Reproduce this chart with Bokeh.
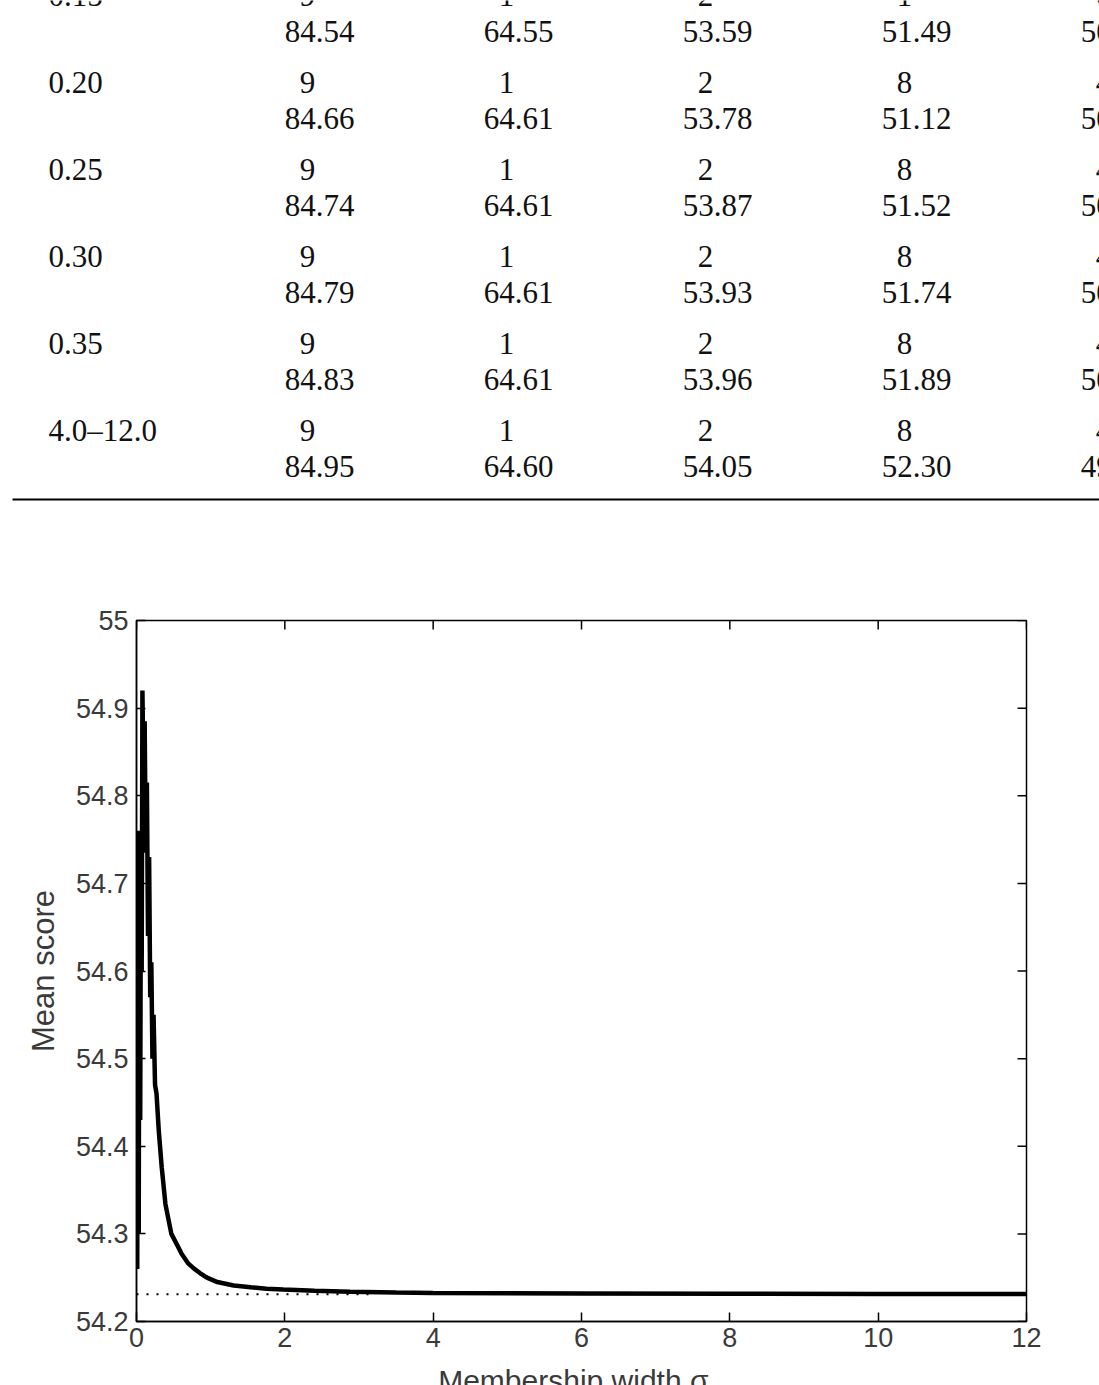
from bokeh.plotting import figure
from bokeh.models import Range1d, FixedTicker, PrintfTickFormatter, ColumnDataSource
from bokeh.core.properties import value
from bokeh.embed import file_html
from bokeh.resources import INLINE

# ---------------- table data (upper part of the page) ----------------
row_labels = ["0.15", "0.20", "0.25", "0.30", "0.35", "4.0–12.0"]
col1_counts = ["9", "9", "9", "9", "9", "9"]
col1_scores = ["84.54", "84.66", "84.74", "84.79", "84.83", "84.95"]
col2_counts = ["1", "1", "1", "1", "1", "1"]
col2_scores = ["64.55", "64.61", "64.61", "64.61", "64.61", "64.60"]
col3_counts = ["2", "2", "2", "2", "2", "2"]
col3_scores = ["53.59", "53.78", "53.87", "53.93", "53.96", "54.05"]
col4_counts = ["1", "8", "8", "8", "8", "8"]
col4_scores = ["51.49", "51.12", "51.52", "51.74", "51.89", "52.30"]
col5_counts = ["6", "4", "4", "4", "4", "4"]
col5_scores = ["50.31", "50.22", "50.18", "50.12", "50.06", "49.87"]

# ---------------- chart data ----------------
sigma = [0.010, 0.020, 0.030, 0.040, 0.050, 0.060, 0.070, 0.080, 0.095, 0.110,
         0.125, 0.140, 0.155, 0.170, 0.185, 0.200, 0.215, 0.230, 0.250, 0.270,
         0.300, 0.340, 0.390, 0.470, 0.550, 0.610, 0.700, 0.780, 0.860, 0.950,
         1.090, 1.200, 1.310, 1.540, 1.750, 1.980, 2.400, 2.880, 3.500, 4.000,
         6.000, 8.000, 10.000, 12.000]
mean_score = [54.26, 54.76, 54.30, 54.75, 54.43, 54.74, 54.60, 54.92, 54.82, 54.885,
              54.735, 54.815, 54.64, 54.73, 54.57, 54.61, 54.50, 54.55, 54.47, 54.46,
              54.418, 54.376, 54.334, 54.300, 54.287, 54.277, 54.266, 54.260, 54.255, 54.250,
              54.245, 54.243, 54.241, 54.239, 54.2375, 54.2365, 54.235, 54.234, 54.233, 54.2325,
              54.232, 54.2317, 54.2315, 54.2315]
asymptote = 54.231
dotted_extent = [0.0, 3.2]
x_ticks = [0, 2, 4, 6, 8, 10, 12]
y_ticks = [54.2, 54.3, 54.4, 54.5, 54.6, 54.7, 54.8, 54.9, 55.0]
x_title = "Membership width  σ"
y_title = "Mean score"

W = 1099
TABLE_H = 560
CHART_TOP = 60
FRAME_H = 701
CHART_BOTTOM = 44
CHART_H = CHART_TOP + FRAME_H + CHART_BOTTOM
LABEL_H = 1385 - TABLE_H - CHART_H

# ---------------- table figure ----------------
t = figure(width=W, height=TABLE_H, output_backend="svg", toolbar_location=None,
           x_range=Range1d(0, W), y_range=Range1d(TABLE_H, 0),
           min_border=0, outline_line_color=None)
t.axis.visible = False
t.grid.visible = False

serif = value("Liberation Serif")
fs = "31px"
ink = "#111111"
row_pitch = 87
top_line0 = -5
bottom_line0 = 31
col_centers = [319 + 199 * i for i in range(5)]
count_shift = -12

lab_x = [48 for _ in row_labels]
lab_y = [top_line0 + row_pitch * j for j in range(len(row_labels))]
t.text(x=lab_x, y=lab_y, text=row_labels, text_font=serif, text_font_size=fs,
       text_align="left", text_baseline="middle", text_color=ink)

counts = [col1_counts, col2_counts, col3_counts, col4_counts, col5_counts]
scores = [col1_scores, col2_scores, col3_scores, col4_scores, col5_scores]
cx, cy, ct, sx, sy, st = [], [], [], [], [], []
for i in range(5):
    for j in range(len(row_labels)):
        cx.append(col_centers[i] + count_shift)
        cy.append(top_line0 + row_pitch * j)
        ct.append(counts[i][j])
        sx.append(col_centers[i])
        sy.append(bottom_line0 + row_pitch * j)
        st.append(scores[i][j])
t.text(x=cx, y=cy, text=ct, text_font=serif, text_font_size=fs,
       text_align="center", text_baseline="middle", text_color=ink)
t.text(x=sx, y=sy, text=st, text_font=serif, text_font_size=fs,
       text_align="center", text_baseline="middle", text_color=ink)
rule_y = bottom_line0 + row_pitch * (len(row_labels) - 1) + 33
t.segment(x0=[12], y0=[rule_y], x1=[W], y1=[rule_y], line_color="black", line_width=2)

# ---------------- chart figure ----------------
x0, x1 = 0, 12
y0, y1 = 54.2, 55.0
p = figure(width=W, height=CHART_H, output_backend="svg", toolbar_location=None,
           x_range=Range1d(x0, x1), y_range=Range1d(y0, y1),
           min_border_left=136, min_border_right=73, min_border_top=CHART_TOP,
           min_border_bottom=CHART_BOTTOM,
           outline_line_color="black", outline_line_width=1.5)
p.grid.visible = False

sans = "Liberation Sans"
grey = "#3a3a3a"
for ax in [p.xaxis[0], p.yaxis[0]]:
    ax.major_tick_in = 9
    ax.major_tick_out = 0
    ax.minor_tick_line_color = None
    ax.axis_line_color = "black"
    ax.axis_line_width = 1.5
    ax.major_tick_line_width = 1.5
    ax.major_label_text_font = sans
    ax.major_label_text_font_size = "27px"
    ax.major_label_text_color = grey

p.xaxis[0].ticker = FixedTicker(ticks=x_ticks)
p.yaxis[0].ticker = FixedTicker(ticks=y_ticks)
p.yaxis[0].formatter = PrintfTickFormatter(format="%g")
p.xaxis[0].major_label_standoff = 6
p.yaxis[0].major_label_standoff = 8
p.yaxis[0].axis_label = y_title
p.yaxis[0].axis_label_text_font = sans
p.yaxis[0].axis_label_text_font_size = "31px"
p.yaxis[0].axis_label_text_font_style = "normal"
p.yaxis[0].axis_label_text_color = grey
p.yaxis[0].axis_label_standoff = 12

# inward ticks on the right and top edges of the box
tick_len_x = 9 / 890 * (x1 - x0)
tick_len_y = 9 / FRAME_H * (y1 - y0)
p.segment(x0=[x1] * len(y_ticks), y0=y_ticks, x1=[x1 - tick_len_x] * len(y_ticks), y1=y_ticks,
          line_color="black", line_width=1.5)
p.segment(x0=x_ticks, y0=[y1] * len(x_ticks), x1=x_ticks, y1=[y1 - tick_len_y] * len(x_ticks),
          line_color="black", line_width=1.5)

p.line(x=dotted_extent, y=[asymptote, asymptote], line_color="black",
       line_width=2, line_dash="2 8")
src = ColumnDataSource(dict(sigma=sigma, score=mean_score))
p.line(x="sigma", y="score", source=src, line_color="black", line_width=4.5)

# ---------------- x-axis title strip (cut off by the window like the reference) ----------------
xl = figure(width=W, height=LABEL_H, output_backend="svg", toolbar_location=None,
            x_range=Range1d(0, W), y_range=Range1d(LABEL_H, 0),
            min_border=0, outline_line_color=None)
xl.axis.visible = False
xl.grid.visible = False
xl.text(x=[136 + 890 / 2 - 4], y=[15], text=[x_title], text_font=value(sans),
        text_font_size="30px", text_align="center", text_baseline="middle", text_color=grey)

open("out.html", "w").write(file_html([t, p, xl], INLINE))
